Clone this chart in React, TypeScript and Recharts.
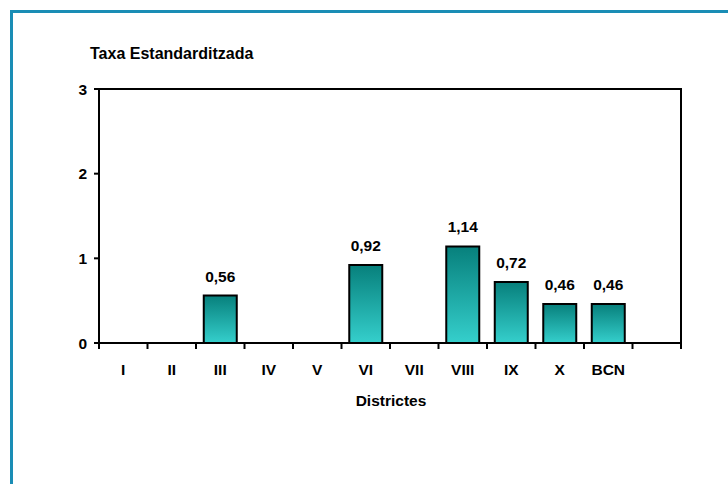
import React from 'react';
import { BarChart, Bar, XAxis, YAxis, LabelList } from 'recharts';

const districts = ['I', 'II', 'III', 'IV', 'V', 'VI', 'VII', 'VIII', 'IX', 'X', 'BCN', ''];
const taxa: (number | null)[] = [null, null, 0.56, null, null, 0.92, null, 1.14, 0.72, 0.46, 0.46, null];
const yTicks = [0, 1, 2, 3];

const data = districts.map((d, i) => ({ name: d, value: taxa[i] }));

const font = 'Arial, "Liberation Sans", sans-serif';
const PL = 99, PR = 681, PT = 89, PB = 343;

export default function App() {
  return (
    <div style={{ position: 'absolute', left: 0, top: 0, width: 728, height: 484, overflow: 'hidden', background: '#fff', fontFamily: font }}>
      <div style={{ position: 'absolute', left: 10, top: 10, width: 800, height: 600, border: '3px solid #1a8db5', boxSizing: 'border-box' }} />
      <div style={{ position: 'absolute', left: 90, top: 45, fontSize: 16, fontWeight: 'bold', color: '#000', whiteSpace: 'nowrap' }}>
        Taxa Estandarditzada
      </div>
      <div style={{ position: 'absolute', left: 0, top: 0 }}>
        <BarChart width={728} height={484} data={data} margin={{ top: PT, right: 728 - PR, bottom: 111, left: 69 }} barCategoryGap="16%">
          <defs>
            <linearGradient id="barGrad" x1="0" y1="0" x2="0" y2="1">
              <stop offset="0%" stopColor="#07807c" />
              <stop offset="100%" stopColor="#35cfcc" />
            </linearGradient>
          </defs>
          <XAxis
            dataKey="name"
            height={30}
            interval={0}
            axisLine={{ stroke: '#000', strokeWidth: 2 }}
            tickLine={false}
            tick={{ fill: '#000', fontSize: 15.5, fontWeight: 'bold', fontFamily: font }}
            tickMargin={15}
          />
          <YAxis
            domain={[0, 3]}
            ticks={yTicks}
            width={30}
            axisLine={{ stroke: '#000', strokeWidth: 2 }}
            tickLine={{ stroke: '#000', strokeWidth: 2 }}
            tickSize={5}
            tickMargin={7}
            tick={{ fill: '#000', fontSize: 15.5, fontWeight: 'bold', fontFamily: font }}
          />
          <Bar
            dataKey="value"
            fill="url(#barGrad)"
            stroke="#000"
            strokeWidth={2}
            isAnimationActive={false}
          >
            <LabelList
              dataKey="value"
              position="top"
              offset={14}
              formatter={(v: any) => (v == null ? '' : Number(v).toFixed(2).replace('.', ','))}
              style={{ fill: '#000', fontSize: 15.5, fontWeight: 'bold', fontFamily: font }}
            />
          </Bar>
        </BarChart>
      </div>
      <svg style={{ position: 'absolute', left: 0, top: 0 }} width={728} height={484} pointerEvents="none">
        <line x1={PL - 1} x2={PR + 1} y1={PT} y2={PT} stroke="#000" strokeWidth={2} />
        <line x1={PR} x2={PR} y1={PT} y2={PB} stroke="#000" strokeWidth={2} />
        {districts.map((_, i) => {
          const x = PL + ((PR - PL) / districts.length) * i;
          return <line key={i} x1={x} x2={x} y1={PB} y2={PB + 6} stroke="#000" strokeWidth={2} />;
        })}
        <line x1={PR} x2={PR} y1={PB} y2={PB + 6} stroke="#000" strokeWidth={2} />
      </svg>
      <div style={{ position: 'absolute', left: 0, width: 782, top: 392, textAlign: 'center', fontSize: 15.5, fontWeight: 'bold', color: '#000' }}>
        Districtes
      </div>
    </div>
  );
}
